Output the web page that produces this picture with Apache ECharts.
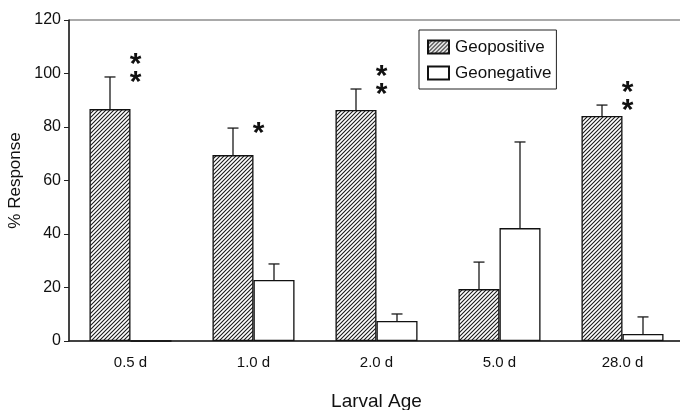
<!DOCTYPE html>
<html>
<head>
<meta charset="utf-8">
<script src="https://cdn.jsdelivr.net/npm/echarts@6/dist/echarts.min.js"></script>
<style>
  html, body { margin: 0; padding: 0; background: #fff; }
  #main { width: 680px; height: 410px; }
</style>
</head>
<body>
<div id="main"></div>
<script>
// values
const ages = ['0.5 d', '1.0 d', '2.0 d', '5.0 d', '28.0 d']
const geopositive = [86.7, 69.5, 86.4, 19.4, 84.1]
const geopositiveErr = [12.0, 10.1, 7.8, 10.1, 4.1]
const geonegative = [0, 22.8, 7.5, 42.2, 2.6]
const geonegativeErr = [0, 6.0, 2.6, 32.2, 6.4]
const stars = [2, 1, 2, 0, 2]
const yTicks = { min: 0, max: 120, interval: 20 }

// diagonal hatch pattern "////"
function hatch () {
  const c = document.createElement('canvas')
  c.width = 4; c.height = 4
  const ctx = c.getContext('2d')
  ctx.fillStyle = '#fff'
  ctx.fillRect(0, 0, 4, 4)
  ctx.strokeStyle = '#1a1a1a'
  ctx.lineWidth = 1.1
  ctx.beginPath()
  ctx.moveTo(-1, 5); ctx.lineTo(5, -1)
  ctx.moveTo(-1, 1); ctx.lineTo(1, -1)
  ctx.moveTo(3, 5); ctx.lineTo(5, 3)
  ctx.stroke()
  return c
}

const font = 'Liberation Sans, Arial, sans-serif'
const chart = echarts.init(document.getElementById('main'), null, { renderer: 'canvas' })

// error bars + significance stars
const errData = ages.map((a, i) => [i, geopositive[i], geopositiveErr[i], geonegative[i], geonegativeErr[i], stars[i]])

function renderErr (params, api) {
  const i = api.value(0)
  const band = api.size([1, 0])[0]
  const barW = band / 3
  const children = []
  const pairs = [[api.value(1), api.value(2), -barW / 2], [api.value(3), api.value(4), barW / 2]]
  pairs.forEach(([v, e, off]) => {
    if (!e) return
    const p0 = api.coord([i, v])
    const p1 = api.coord([i, v + e])
    const x = p0[0] + off
    const style = { stroke: '#1a1a1a', lineWidth: 1.3 }
    children.push({ type: 'line', shape: { x1: x, y1: p0[1], x2: x, y2: p1[1] }, style })
    children.push({ type: 'line', shape: { x1: x - 5.5, y1: p1[1], x2: x + 5.5, y2: p1[1] }, style })
  })
  const n = api.value(5)
  if (n > 0) {
    const top = api.coord([i, api.value(1) + api.value(2)])
    const cx = api.coord([i, 0])[0] + 5
    for (let k = 0; k < n; k++) {
      children.push({
        type: 'text',
        style: {
          text: '*', x: cx, y: top[1] + 6 - k * 18,
          font: 'bold 30px ' + font, fill: '#111',
          align: 'center', verticalAlign: 'middle'
        }
      })
    }
  }
  return { type: 'group', children }
}

const option = {
  animation: false,
  backgroundColor: '#fff',
  grid: {
    left: 69, top: 20, width: 615, height: 321,
    outerBoundsMode: 'none',
    show: true, borderColor: '#555', borderWidth: 1
  },
  legend: {
    orient: 'vertical',
    left: 419, top: 30,
    padding: [8, 5, 7, 8],
    itemWidth: 21, itemHeight: 13, itemGap: 8,
    borderColor: '#222', borderWidth: 1,
    icon: 'rect',
    textStyle: { fontFamily: font, fontSize: 17, lineHeight: 18, color: '#111', padding: [0, 0, 0, 1] },
    data: ['Geopositive', 'Geonegative']
  },
  xAxis: {
    type: 'category',
    data: ages,
    name: 'Larval Age',
    nameLocation: 'middle',
    nameGap: 51,
    nameTextStyle: { fontFamily: font, fontSize: 19, color: '#111' },
    axisLine: { lineStyle: { color: '#222', width: 1.5 } },
    axisTick: { show: false },
    axisLabel: { fontFamily: font, fontSize: 15, color: '#111', margin: 14 }
  },
  yAxis: {
    type: 'value',
    min: yTicks.min, max: yTicks.max, interval: yTicks.interval,
    name: '% Response',
    nameLocation: 'middle',
    nameGap: 41,
    nameTextStyle: { fontFamily: font, fontSize: 17, color: '#111' },
    axisLine: { show: true, lineStyle: { color: '#222', width: 1.5 } },
    axisTick: { show: true, length: 5, lineStyle: { color: '#222' } },
    axisLabel: { fontFamily: font, fontSize: 16, color: '#111', margin: 8 },
    splitLine: { show: false }
  },
  series: [
    {
      name: 'Geopositive',
      type: 'bar',
      data: geopositive,
      barGap: '0%',
      barCategoryGap: '33.3%',
      itemStyle: { color: { image: hatch(), repeat: 'repeat' }, borderColor: '#111', borderWidth: 1.3 }
    },
    {
      name: 'Geonegative',
      type: 'bar',
      data: geonegative,
      itemStyle: { color: '#fff', borderColor: '#111', borderWidth: 1.3 }
    },
    {
      type: 'custom',
      renderItem: renderErr,
      data: errData,
      z: 5,
      silent: true
    }
  ]
}
chart.setOption(option)
</script>
</body>
</html>
